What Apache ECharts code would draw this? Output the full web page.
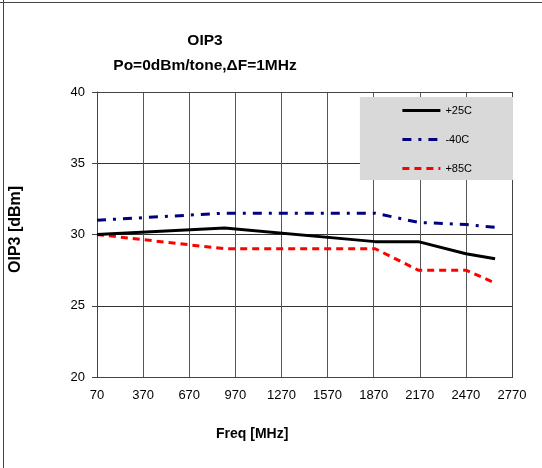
<!DOCTYPE html>
<html>
<head>
<meta charset="utf-8">
<script src="https://cdn.jsdelivr.net/npm/echarts@6/dist/echarts.min.js"></script>
<style>
html,body{margin:0;padding:0;background:#fff;}
#c{width:542px;height:468px;}
</style>
</head>
<body>
<div id="c"></div>
<script>
var freqs = [70, 900, 1880, 2160, 2470, 2660];
var s25 = [30.0, 30.45, 29.5, 29.5, 28.65, 28.3];
var sM40 = [31.0, 31.5, 31.5, 30.85, 30.7, 30.5];
var s85 = [30.0, 29.0, 29.0, 27.5, 27.5, 26.6];
var xTicks = [70, 370, 670, 970, 1270, 1570, 1870, 2170, 2470, 2770];
var yTicks = [20, 25, 30, 35, 40];

function pairs(v){ return freqs.map(function(f,i){ return [f - 70, v[i]]; }); }

var chart = echarts.init(document.getElementById('c'), null, {renderer:'canvas'});
var font = 'Arial, "Liberation Sans", sans-serif';
chart.setOption({
  animation:false,
  backgroundColor:'#fff',
  textStyle:{fontFamily:font},
  title:{
    text:'OIP3\nPo=0dBm/tone,ΔF=1MHz',
    left:200, top:23, textAlign:'center',
    textStyle:{fontSize:15.5, fontWeight:'bold', color:'#000', lineHeight:25, fontFamily:font}
  },
  grid:{left:97, right:30, top:92, bottom:91},
  legend:{
    orient:'vertical', right:29, top:97,
    backgroundColor:'#d9d9d9',
    padding:[8, 41, 6, 41],
    itemWidth:38, itemHeight:10, itemGap:18,
    itemStyle:{opacity:0},
    lineStyle:{width:3},
    textStyle:{fontSize:11, color:'#000', fontFamily:font},
    data:['+25C','-40C','+85C']
  },
  xAxis:{
    type:'value', min:0, max:2700, interval:300,
    axisLine:{show:true, lineStyle:{color:'#444', width:1}},
    axisTick:{show:false},
    axisLabel:{color:'#000', fontSize:13, margin:12, formatter:function(v){ return String(v + 70); }},
    splitLine:{show:true, lineStyle:{color:'#555', width:1}}
  },
  yAxis:{
    type:'value', min:20, max:40, interval:5,
    axisLine:{show:true, lineStyle:{color:'#444', width:1}},
    axisTick:{show:true, inside:false, length:5, lineStyle:{color:'#444'}},
    axisLabel:{color:'#000', fontSize:13, margin:12},
    splitLine:{show:true, lineStyle:{color:'#333', width:1}}
  },
  graphic:[
    {type:'line', shape:{x1:0, y1:2.5, x2:542, y2:2.5}, style:{stroke:'#444', lineWidth:1}},
    {type:'line', shape:{x1:3.5, y1:0, x2:3.5, y2:468}, style:{stroke:'#444', lineWidth:1}},
    {type:'line', shape:{x1:512.5, y1:92, x2:512.5, y2:378}, style:{stroke:'#444', lineWidth:1}, z:1},
    {type:'line', shape:{x1:97, y1:92.5, x2:512, y2:92.5}, style:{stroke:'#444', lineWidth:1}, z:1},
    {type:'text', left:216, top:427,
     style:{text:'Freq [MHz]', font:'bold 14px Arial, "Liberation Sans", sans-serif', fill:'#000'}},
    {type:'text', x:8, y:273, rotation:Math.PI/2,
     style:{text:'OIP3 [dBm]', font:'bold 16px Arial, "Liberation Sans", sans-serif', fill:'#000', textVerticalAlign:'top'}}
  ],
  series:[
    {name:'+25C', type:'line', data:pairs(s25), symbol:'none', z:5,
     lineStyle:{color:'#000', width:3, type:'solid'}, itemStyle:{color:'#000'}},
    {name:'-40C', type:'line', data:pairs(sM40), symbol:'none', z:4,
     lineStyle:{color:'#000080', width:3, type:[9,7,3,7]}, itemStyle:{color:'#000080'}},
    {name:'+85C', type:'line', data:pairs(s85), symbol:'none', z:3,
     lineStyle:{color:'#ff0000', width:3, type:[7,5]}, itemStyle:{color:'#ff0000'}}
  ]
});
</script>
</body>
</html>
